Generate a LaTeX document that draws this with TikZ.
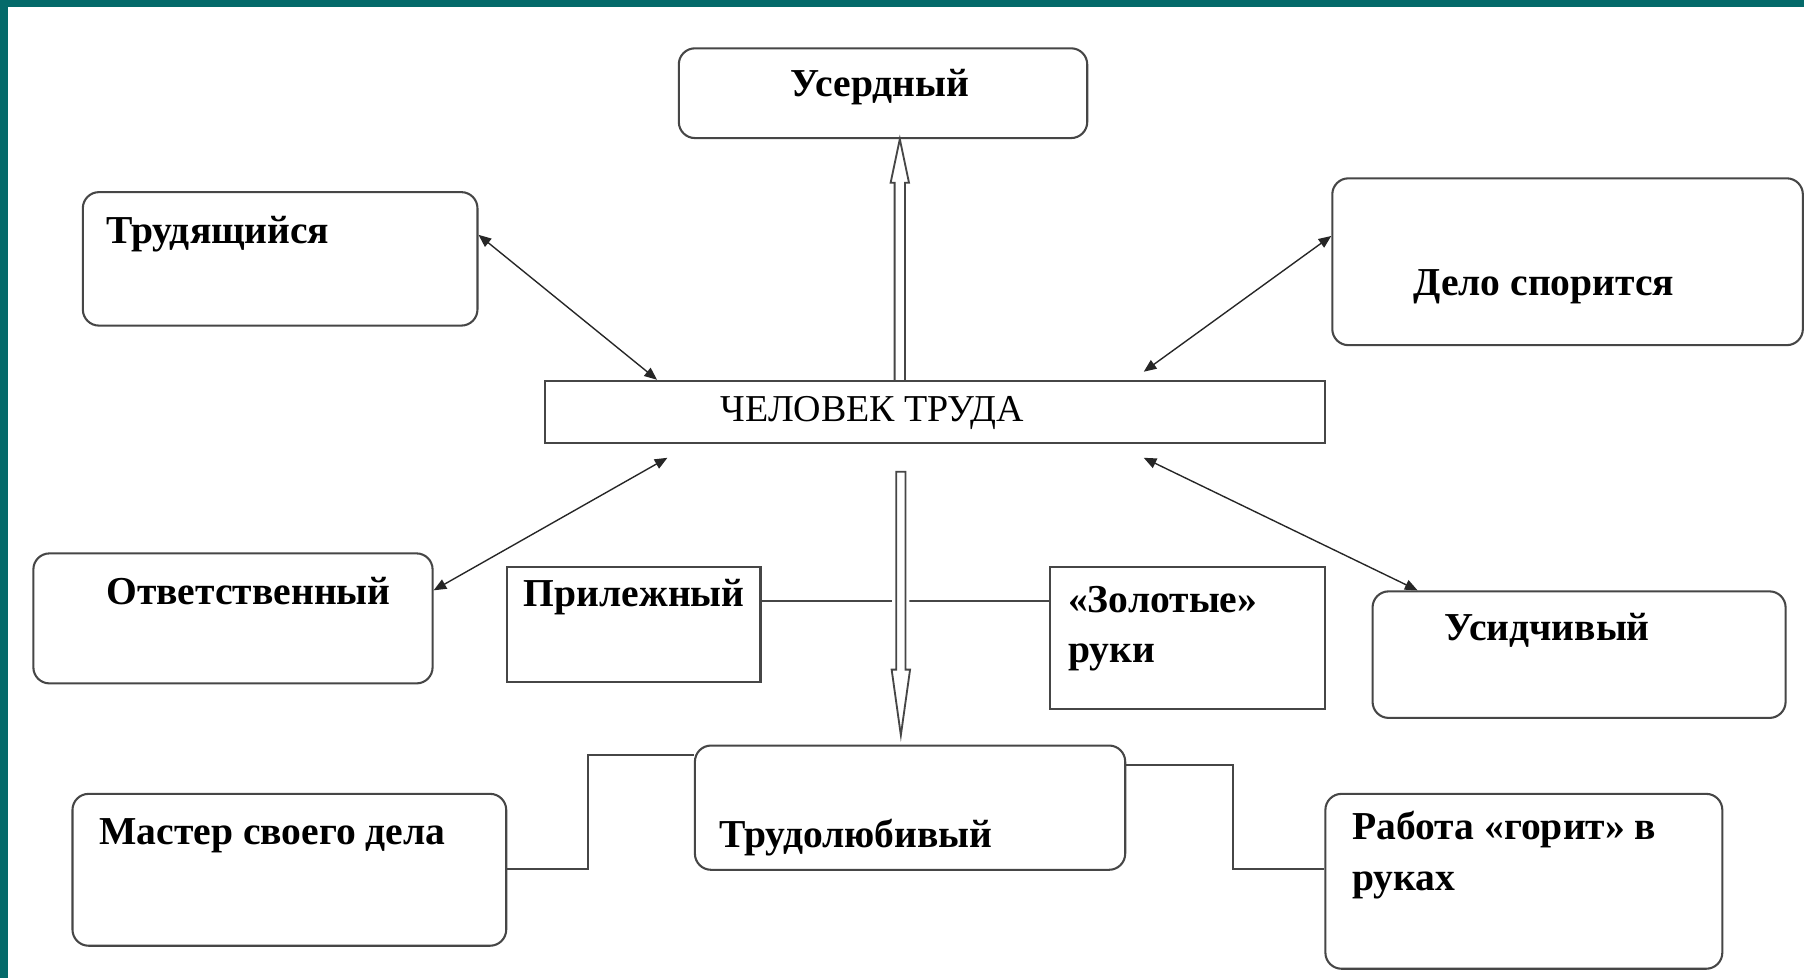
\documentclass[tikz,border=0pt]{standalone}
\usepackage{fontspec}
\setmainfont{Liberation Serif}
\usetikzlibrary{arrows.meta,fit,calc}
\definecolor{frameteal}{RGB}{4,106,106}
\definecolor{edge}{RGB}{70,70,70}
\begin{document}
\begin{tikzpicture}[x=0.5pt,y=-0.5pt,
  rbox/.style={draw=edge,line width=0.9pt,rounded corners=7pt,inner sep=0pt,fill=white},
  sbox/.style={draw=edge,line width=0.9pt,inner sep=0pt,fill=white},
  lbl/.style={inner sep=0pt,anchor=base west,font=\fontsize{17.2}{22}\selectfont\bfseries,align=left},
  lblreg/.style={inner sep=0pt,anchor=base west,font=\fontsize{16.5}{20}\selectfont},
  dbl/.style={{Triangle[length=5.5pt,width=4.5pt]}-{Triangle[length=5.5pt,width=4.5pt]},line width=0.6pt,draw=black!85},
  conn/.style={line width=0.9pt,draw=edge},
  blockarr/.style={line width=0.8pt,draw=edge,fill=white}
]
% background and frame
\fill[white] (0,0) rectangle (1568,850);
\useasboundingbox (0,0) rectangle (1568,850);
\fill[frameteal] (0,0) rectangle (1568,6);
\fill[frameteal] (0,0) rectangle (7,850);

% boxes
\node[rbox, fit={(590,42) (945,120)}] (usr) {};
\node[rbox, fit={(72,167) (415,283)}] (trud) {};
\node[rbox, fit={(1158,155) (1567,300)}] (delo) {};
\node[sbox, fit={(474,331) (1152,385)}] (chel) {};
\node[rbox, fit={(29,481) (376,594)}] (otv) {};
\node[sbox, fit={(441,493) (661,593)}] (pril) {};
\node[sbox, fit={(913,493) (1152,616)}] (zol) {};
\node[rbox, fit={(1193,514) (1552,624)}] (usid) {};
\node[rbox, fit={(604,648) (978,756)}] (trl) {};
\node[rbox, fit={(63,690) (440,822)}] (mast) {};
\node[rbox, fit={(1152,690) (1497,842)}] (rab) {};

% labels
\node[lbl] (usrT) at (687,84) {Усердный};
\node[lbl] (trudT) at (92,212) {Трудящийся};
\node[lbl] (deloT) at (1228,257) {Дело спорится};
\node[lblreg] (chelT) at (626,366) {ЧЕЛОВЕК ТРУДА};
\node[lbl] (otvT) at (92,525) {Ответственный};
\node[lbl] (prilT) at (455,527) {Прилежный};
\node[lbl] (zolT) at (928,576) {«Золотые»\\руки};
\node[lbl] (usidT) at (1255,557) {Усидчивый};
\node[lbl] (mastT) at (86,734) {Мастер своего дела};
\node[lbl] (trlT) at (625,737) {Трудолюбивый};
\node[lbl] (rabT) at (1175,774) {Работа «горит» в\\руках};

% double arrows
\draw[dbl] ([yshift=-19pt]trud.north east) -- ([xshift=49pt]chel.north west);
\draw[dbl] ([yshift=-25.5pt]delo.north west) -- ([xshift=260.5pt,yshift=3.5pt]chel.north west);
\draw[dbl] ([yshift=-16.5pt]otv.north east) -- ([xshift=53.5pt,yshift=-6pt]chel.south west);
\draw[dbl] ([xshift=20pt]usid.north west) -- ([xshift=260.5pt,yshift=-6pt]chel.south west);

% up block arrow
\coordinate (ua0) at ([xshift=154.5pt]chel.north west);
\coordinate (ua1) at ([xshift=96.5pt]usr.south west);
\draw[blockarr] ($(ua0)+(-4.5,0)$) -- ($(ua1)+(-4.5,38)$) -- ($(ua1)+(-8,38)$) -- (ua1)
  -- ($(ua1)+(8,38)$) -- ($(ua1)+(4.5,38)$) -- ($(ua0)+(4.5,0)$);

% line Прилежный - Золотые
\coordinate (p1) at ([yshift=10.5pt]pril.east);
\draw[conn] (p1) -- (p1 -| zol.west);

% down block arrow
\coordinate (da0) at (783,410);
\coordinate (da1) at (783,639);
\draw[blockarr,preaction={draw=white,line width=3.5pt,line join=round}] ($(da0)+(-4,0)$) -- ($(da1)+(-4,-57)$) -- ($(da1)+(-8,-57)$) -- (da1)
  -- ($(da1)+(8,-57)$) -- ($(da1)+(4,-57)$) -- ($(da0)+(4,0)$) -- cycle;

% elbow connectors
\coordinate (m1) at ([yshift=-33pt]mast.north east);
\coordinate (t1) at ([yshift=-4.5pt]trl.north west);
\draw[conn] (m1) -- ++(70,0) |- (t1);
\coordinate (t2) at ([yshift=-9pt]trl.north east);
\coordinate (r1) at ([yshift=-33pt]rab.north west);
\draw[conn] (t2) -- ++(93,0) |- (r1);
\end{tikzpicture}
\end{document}
